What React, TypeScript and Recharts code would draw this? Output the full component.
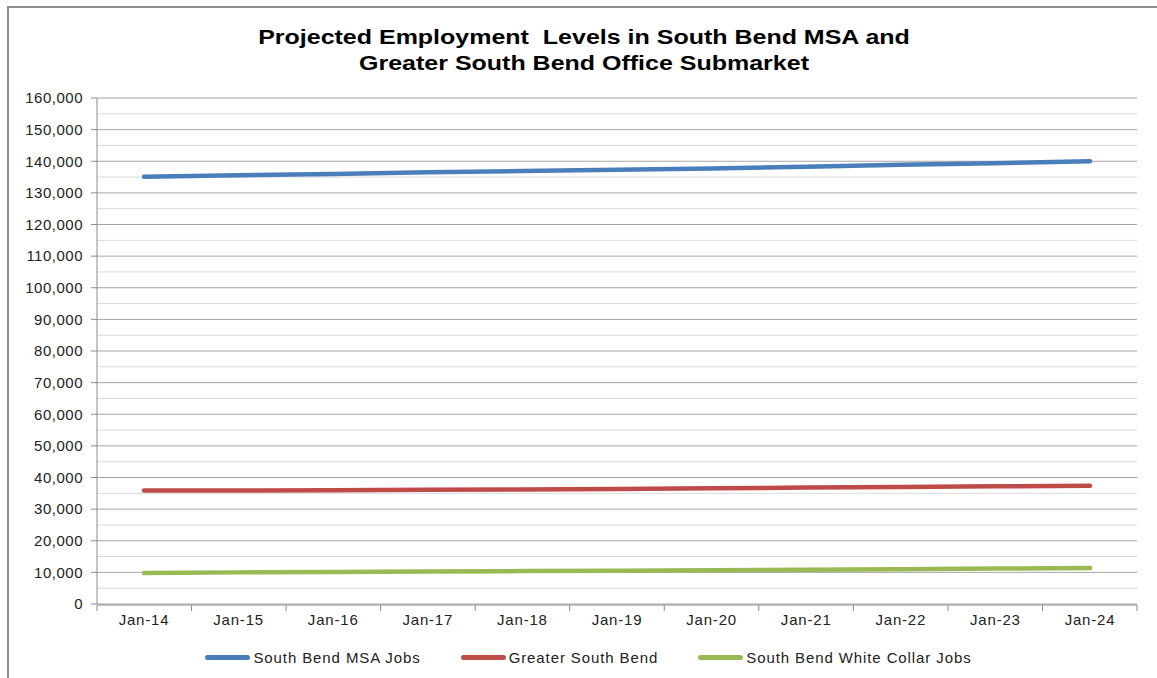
import React from 'react';
import { LineChart, Line, XAxis, YAxis, CartesianGrid, ReferenceLine, Legend } from 'recharts';

const months = ['Jan-14', 'Jan-15', 'Jan-16', 'Jan-17', 'Jan-18', 'Jan-19', 'Jan-20', 'Jan-21', 'Jan-22', 'Jan-23', 'Jan-24'];
const msaJobs = [135100, 135600, 136000, 136500, 136900, 137300, 137700, 138300, 138900, 139400, 140000];
const greaterSouthBend = [35900, 35900, 36000, 36100, 36200, 36400, 36600, 36800, 37000, 37200, 37400];
const whiteCollarJobs = [9800, 10000, 10100, 10300, 10400, 10500, 10700, 10800, 11000, 11200, 11400];

const seriesNames = ['South Bend MSA Jobs', 'Greater South Bend', 'South Bend White Collar Jobs'];
const seriesKeys = ['msa', 'greater', 'white'];
const seriesColors = ['#4a7ebb', '#be4b48', '#98b954'];

const yTicks = [0, 10000, 20000, 30000, 40000, 50000, 60000, 70000, 80000, 90000, 100000, 110000, 120000, 130000, 140000, 150000, 160000];
const minorTicks = [5000, 15000, 25000, 35000, 45000, 55000, 65000, 75000, 85000, 95000, 105000, 115000, 125000, 135000, 145000, 155000];
const boundaryTicks = [0, 1, 2, 3, 4, 5, 6, 7, 8, 9, 10, 11];

// slot = middle of each category band, used only by the axis that carries the boundary tick marks
const chartData = months.map((m, i) => ({
  month: m,
  slot: i + 0.5,
  msa: msaJobs[i],
  greater: greaterSouthBend[i],
  white: whiteCollarJobs[i],
}));

const FONT = '"Liberation Sans", Arial, sans-serif';
const AXIS_GRAY = '#8c8c8c';

// legend built from the series list so the order stays as in the original
const renderLegend = () => (
  <div style={{ display: 'flex', justifyContent: 'center', paddingLeft: 32, fontFamily: FONT, fontSize: 15, letterSpacing: 0.9, color: '#222' }}>
    {seriesNames.map((name, i) => (
      <div key={name} style={{ display: 'flex', alignItems: 'center', marginRight: i < seriesNames.length - 1 ? 40 : 0 }}>
        <span style={{ display: 'inline-block', width: 45, height: 5, borderRadius: 3, background: seriesColors[i], marginRight: 3 }} />
        <span>{name}</span>
      </div>
    ))}
  </div>
);

const noLabel = () => <g />;

const App: React.FC = () => {
  return (
    <div style={{ position: 'absolute', left: 0, top: 0, width: 1157, height: 678, overflow: 'hidden', background: '#fff' }}>
      <div style={{ position: 'absolute', left: 7, top: 6, width: 1300, height: 900, borderTop: `2px solid ${AXIS_GRAY}`, borderLeft: `2px solid ${AXIS_GRAY}` }} />
      <div
        style={{
          position: 'absolute',
          left: 0,
          top: 24,
          width: 1168,
          textAlign: 'center',
          fontFamily: FONT,
          fontWeight: 'bold',
          fontSize: 21,
          lineHeight: '26px',
          color: '#000',
          transform: 'scaleX(1.19)',
          transformOrigin: '584px 0',
        }}
      >
        Projected Employment&nbsp; Levels in South Bend MSA and
        <br />
        Greater South Bend Office Submarket
      </div>
      <div style={{ position: 'absolute', left: 0, top: 0 }}>
        <LineChart width={1157} height={678} data={chartData} margin={{ top: 98, right: 20, left: 8, bottom: 22 }}>
          <CartesianGrid horizontal vertical={false} stroke="#a6a6a6" strokeWidth={1} />
          {minorTicks.map((v) => (
            <ReferenceLine key={v} y={v} stroke="#d9d9d9" strokeWidth={1} ifOverflow="visible" />
          ))}
          <XAxis
            dataKey="month"
            padding={{ left: 47, right: 47 }}
            axisLine={false}
            tickLine={false}
            tickSize={0}
            tickMargin={10}
            interval={0}
            height={1}
            tick={{ fill: '#222', fontSize: 15, fontFamily: FONT, letterSpacing: 0.8 }}
          />
          <XAxis
            xAxisId="bounds"
            dataKey="slot"
            type="number"
            domain={[0, 11]}
            allowDataOverflow
            ticks={boundaryTicks}
            interval={0}
            tick={noLabel}
            tickSize={6}
            tickLine={{ stroke: AXIS_GRAY }}
            axisLine={{ stroke: AXIS_GRAY }}
            height={34}
          />
          <YAxis
            domain={[0, 160000]}
            ticks={yTicks}
            interval={0}
            width={89}
            tickSize={6}
            tickMargin={8}
            tickFormatter={(v: number) => v.toLocaleString('en-US')}
            tick={{ fill: '#222', fontSize: 15, fontFamily: FONT, letterSpacing: 0.5 }}
            tickLine={{ stroke: AXIS_GRAY }}
            axisLine={{ stroke: AXIS_GRAY }}
          />
          <Legend verticalAlign="bottom" content={renderLegend} wrapperStyle={{ bottom: 12 }} />
          {seriesKeys.map((k, i) => (
            <Line
              key={k}
              dataKey={k}
              name={seriesNames[i]}
              stroke={seriesColors[i]}
              strokeWidth={4.5}
              strokeLinecap="round"
              dot={false}
              activeDot={false}
              isAnimationActive={false}
            />
          ))}
        </LineChart>
      </div>
    </div>
  );
};

export default App;
